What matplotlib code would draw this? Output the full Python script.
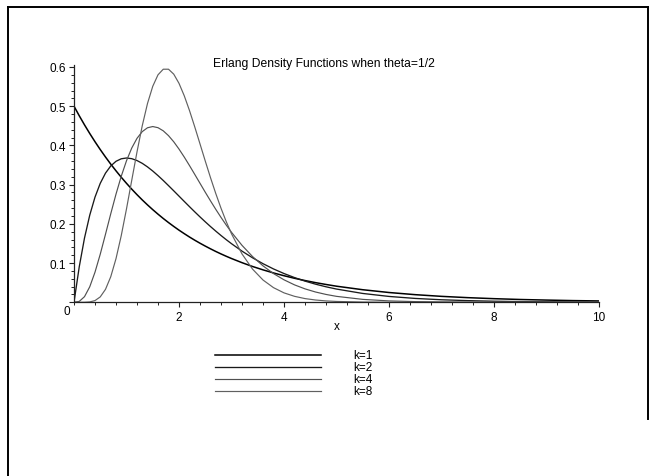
import matplotlib
matplotlib.use('Agg')
import matplotlib.pyplot as plt
from matplotlib.lines import Line2D
from matplotlib.ticker import MultipleLocator

plt.rcParams['font.family'] = ['Liberation Sans', 'DejaVu Sans']

# values (x, then one density list per k)
x_vals = [0.0, 0.1, 0.2, 0.3, 0.4, 0.5, 0.6, 0.7, 0.8, 0.9, 1.0,
          1.1, 1.2, 1.3, 1.4, 1.5, 1.6, 1.7, 1.8, 1.9, 2.0,
          2.1, 2.2, 2.3, 2.4, 2.5, 2.6, 2.7, 2.8, 2.9, 3.0,
          3.2, 3.4, 3.6, 3.8, 4.0, 4.2, 4.4, 4.6, 4.8, 5.0,
          5.5, 6.0, 6.5, 7.0, 7.5, 8.0, 8.5, 9.0, 9.5, 10.0]
k1 = [0.5, 0.4756, 0.4524, 0.4304, 0.4094, 0.3894, 0.3704, 0.3523, 0.3352, 0.3188, 0.3033,
      0.2885, 0.2744, 0.2610, 0.2483, 0.2362, 0.2247, 0.2137, 0.2033, 0.1934, 0.1839,
      0.1750, 0.1664, 0.1583, 0.1506, 0.1433, 0.1363, 0.1296, 0.1233, 0.1173, 0.1116,
      0.1010, 0.0913, 0.0827, 0.0748, 0.0677, 0.0612, 0.0554, 0.0501, 0.0454, 0.0410,
      0.0320, 0.0249, 0.0194, 0.0151, 0.0118, 0.0092, 0.0071, 0.0056, 0.0043, 0.0034]
k2 = [0.0, 0.0905, 0.1638, 0.2222, 0.2681, 0.3033, 0.3293, 0.3476, 0.3595, 0.3659, 0.3679,
      0.3662, 0.3614, 0.3543, 0.3452, 0.3347, 0.3230, 0.3106, 0.2975, 0.2842, 0.2707,
      0.2572, 0.2438, 0.2306, 0.2177, 0.2052, 0.1931, 0.1815, 0.1703, 0.1596, 0.1494,
      0.1304, 0.1135, 0.0984, 0.0850, 0.0733, 0.0630, 0.0540, 0.0462, 0.0395, 0.0337,
      0.0225, 0.0149, 0.0098, 0.0064, 0.0042, 0.0027, 0.0017, 0.0011, 0.0007, 0.0005]
k4 = [0.0, 0.0022, 0.0143, 0.0395, 0.0767, 0.1226, 0.1735, 0.2256, 0.2757, 0.3213, 0.3609,
      0.3933, 0.4180, 0.4352, 0.4450, 0.4481, 0.4452, 0.4372, 0.4249, 0.4092, 0.3907,
      0.3703, 0.3486, 0.3261, 0.3034, 0.2807, 0.2586, 0.2371, 0.2165, 0.1969, 0.1785,
      0.1452, 0.1167, 0.0929, 0.0732, 0.0573, 0.0444, 0.0342, 0.0262, 0.0200, 0.0151,
      0.0074, 0.0035, 0.0017, 0.0008, 0.0003, 0.0002, 0.0001, 0.0, 0.0, 0.0]
k8 = [0.0, 0.0, 0.0001, 0.0009, 0.0043, 0.0137, 0.0330, 0.0651, 0.1112, 0.1699, 0.2382,
      0.3111, 0.3834, 0.4501, 0.5069, 0.5507, 0.5800, 0.5943, 0.5943, 0.5817, 0.5583,
      0.5266, 0.4889, 0.4473, 0.4039, 0.3603, 0.3178, 0.2775, 0.2399, 0.2056, 0.1747,
      0.1233, 0.0847, 0.0568, 0.0373, 0.0240, 0.0152, 0.0094, 0.0058, 0.0035, 0.0021,
      0.0006, 0.0001, 0.0, 0.0, 0.0, 0.0, 0.0, 0.0, 0.0, 0.0]
labels = ['k=1', 'k=2', 'k=4', 'k=8']
series = [k1, k2, k4, k8]
colors = ['#000000', '#1a1a1a', '#505050', '#606060']
widths = [1.1, 0.95, 0.85, 0.85]

fig = plt.figure(figsize=(6.56, 4.77), dpi=100)
ax = fig.add_axes([0.1128, 0.3642, 0.8003, 0.4974])

for ys, c, lw in zip(series, colors, widths):
    ax.plot(x_vals, ys, color=c, lw=lw, solid_capstyle='butt', solid_joinstyle='round')

ax.set_xlim(0, 10)
ax.set_ylim(0, 0.605)
for s in ['top', 'right']:
    ax.spines[s].set_visible(False)
for s in ['left', 'bottom']:
    ax.spines[s].set_linewidth(0.9)
    ax.spines[s].set_color('#222222')

ax.set_xticks([2, 4, 6, 8, 10])
ax.set_yticks([0.0, 0.1, 0.2, 0.3, 0.4, 0.5, 0.6])
ax.set_yticklabels(['', '0.1', '0.2', '0.3', '0.4', '0.5', '0.6'])
ax.xaxis.set_minor_locator(MultipleLocator(0.4))
ax.yaxis.set_minor_locator(MultipleLocator(0.02))
ax.tick_params(which='major', direction='out', length=3.5, width=0.8,
               labelsize=8.5, pad=2, color='#222222')
ax.tick_params(which='minor', direction='out', length=2, width=0.7, color='#222222')
ax.tick_params(axis='x', which='major', pad=3)
ax.text(-0.08, -0.008, '0', ha='right', va='top', fontsize=8.5)

fig.text(0.513, 0.3145, 'x', ha='center', va='center', fontsize=8.5)
fig.text(0.494, 0.866, 'Erlang Density Functions when theta=1/2',
         ha='center', va='center', fontsize=8.7)

# legend block below the plot
for i, (lab, c, lw) in enumerate(zip(labels, colors, widths)):
    yy = 1 - (356 + 12 * i) / 477
    fig.add_artist(Line2D([215 / 656, 321 / 656], [yy, yy], color=c, lw=lw))
    fig.text(353 / 656, yy, lab, ha='left', va='center', fontsize=8.5)

# page frame
fx0, fx1, fy = 7.5 / 656, 648 / 656, 1 - 7.5 / 477
fig.add_artist(Line2D([fx0, fx0], [0, fy], color='black', lw=1.4))
fig.add_artist(Line2D([fx0, fx1], [fy, fy], color='black', lw=1.4))
fig.add_artist(Line2D([fx1, fx1], [fy, 1 - 420 / 477], color='black', lw=1.4))

fig.savefig('out.png', dpi=100, facecolor='white')
